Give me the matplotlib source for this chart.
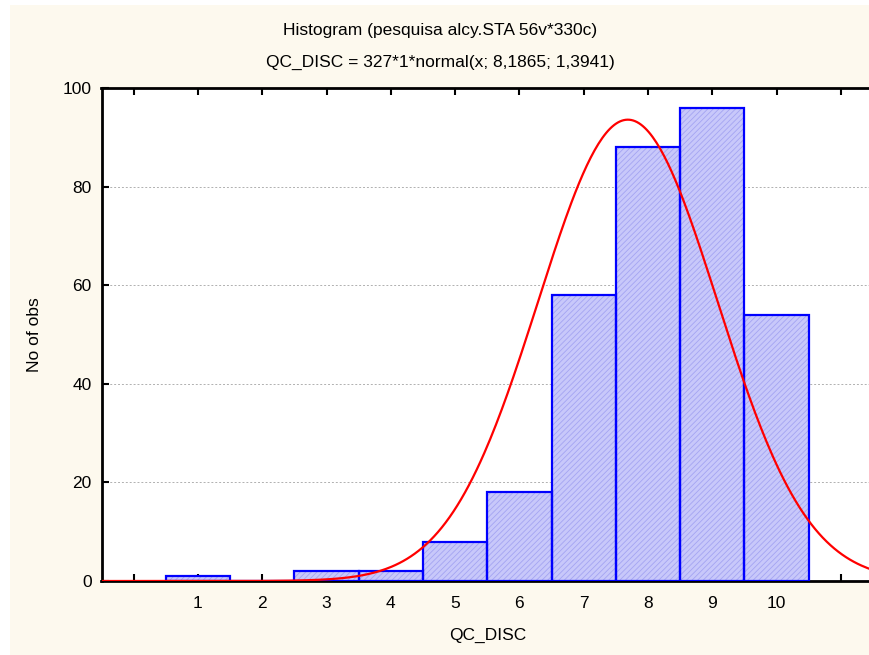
import numpy as np
import matplotlib
matplotlib.use("Agg")
import matplotlib.pyplot as plt
from matplotlib.patches import Rectangle

# histogram of QC_DISC
categories = [1, 2, 3, 4, 5, 6, 7, 8, 9, 10]
counts = [1, 0, 2, 2, 8, 18, 58, 88, 96, 54]
n_obs = 327
mu, sigma = 8.1865, 1.3941
y_ticks = [0, 20, 40, 60, 80, 100]

plt.rcParams['font.family'] = ['Liberation Sans', 'DejaVu Sans']
plt.rcParams['hatch.linewidth'] = 0.6

fig = plt.figure(figsize=(8.69, 6.55), dpi=100)
fig.patch.set_facecolor('white')
fig.patches.append(Rectangle((10 / 869, 0), 1, 1 - 5 / 655, transform=fig.transFigure,
                             facecolor='#fdf9ee', edgecolor='none', zorder=-10))

ax = fig.add_axes([101.5 / 869, 1 - 581 / 655, (873 - 101.5) / 869, (581 - 88) / 655])
ax.set_facecolor('white')

# fill with fine hatch, then the blue outlines
ax.bar(categories, counts, width=1.0, color='#c8c8fa', edgecolor='#a4a4f2',
       hatch='//////', linewidth=0, zorder=2)
ax.bar(categories, counts, width=1.0, fill=False, edgecolor='#0000ff',
       linewidth=1.6, zorder=3)

# fitted normal curve (Statistica draws it against the upper bin edge)
xs = np.linspace(-0.5, 11.5, 400)
z = (xs + 0.5 - mu) / sigma
ys = n_obs * 1 * np.exp(-0.5 * z ** 2) / (sigma * np.sqrt(2 * np.pi))
ax.plot(xs, ys, color='#ff0000', linewidth=1.6, zorder=4)

ax.set_xlim(-0.5, 11.5)
ax.set_ylim(0, 100)
ax.set_xticks(range(0, 12))
ax.set_xticklabels([''] + [str(c) for c in categories] + [''])
ax.set_yticks(y_ticks)
ax.yaxis.grid(True, linestyle=(0, (2, 2)), color='#b0b0b0', linewidth=0.7, zorder=1)
ax.set_axisbelow(True)

for side in ['left', 'bottom', 'top']:
    ax.spines[side].set_linewidth(2)
ax.spines['right'].set_visible(False)
ax.tick_params(direction='in', length=5, width=1.5, labelsize=12.5,
               top=True, right=False)
ax.tick_params(axis='x', pad=11)
ax.tick_params(axis='y', pad=7)

ax.set_xlabel('QC_DISC', fontsize=12.5, labelpad=12)
ax.set_ylabel('No of obs', fontsize=12.5, labelpad=15)

fig.text(440 / 869, 1 - 30 / 655, 'Histogram (pesquisa alcy.STA 56v*330c)',
         ha='center', va='center', fontsize=12.5)
fig.text(440 / 869, 1 - 62 / 655, 'QC_DISC = 327*1*normal(x; 8,1865; 1,3941)',
         ha='center', va='center', fontsize=12.5)

fig.savefig('out.png', dpi=100, facecolor=fig.get_facecolor())
